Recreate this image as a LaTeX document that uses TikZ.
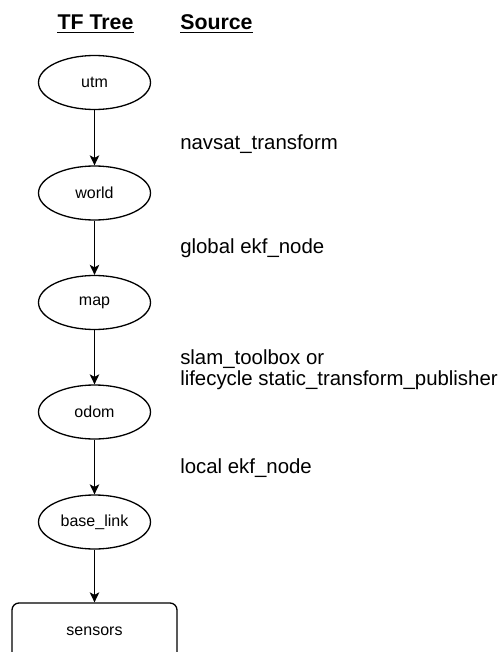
\documentclass[tikz,border=0pt]{standalone}
\usepackage{fontspec}
\setmainfont{Liberation Sans}
\usetikzlibrary{arrows.meta,shapes.geometric}
\begin{document}
\begin{tikzpicture}[x=0.75pt,y=-0.75pt,
  frame/.style={draw=black,line width=1.3*0.75pt,inner sep=0pt},
  tfnode/.style={frame,ellipse,minimum width=112*0.75pt,minimum height=54*0.75pt,
    font=\fontsize{12}{14}\selectfont},
  leaf/.style={frame,rectangle,rounded corners=7*0.75pt,minimum width=165*0.75pt,
    minimum height=56*0.75pt,font=\fontsize{12}{14}\selectfont},
  link/.style={line width=1.3*0.75pt,
    -{Stealth[length=10*0.75pt,width=9.5*0.75pt,inset=2.5*0.75pt]}},
  heading/.style={inner sep=0pt,font=\fontsize{16}{19}\selectfont\bfseries},
  source/.style={inner sep=0pt,anchor=base west,align=left,
    font=\fontsize{15.3}{13.9}\selectfont},
  rule/.style={line width=1.5*0.75pt}]
\useasboundingbox (0,0) rectangle (500,652);
\clip (0,0) rectangle (500,652);

% column headings
\node[heading,anchor=base] (h1) at (95.5,30) {TF Tree};
\node[heading,anchor=base west] (h2) at (180,30) {Source};
\draw[rule] ([yshift=-2.3*0.75pt]h1.base west) -- ([yshift=-2.3*0.75pt]h1.base east);
\draw[rule] ([yshift=-2.3*0.75pt]h2.base west) -- ([yshift=-2.3*0.75pt]h2.base east);

% frames of the transform tree
\node[tfnode] (utm)   at (94.5,82.5)  {utm};
\node[tfnode] (world) at (94.5,193)   {world};
\node[tfnode] (map)   at (94.5,302.5) {map};
\node[tfnode] (odom)  at (94.5,412)   {odom};
\node[tfnode] (base)  at (94.5,522)   {base\_link};
\node[leaf]   (sensors) at (94.5,631) {sensors};

\draw[link] (utm)   -- (world);
\draw[link] (world) -- (map);
\draw[link] (map)   -- (odom);
\draw[link] (odom)  -- (base);
\draw[link] (base)  -- (sensors);

% publishers of each transform (base anchor of the two-line label is its last line)
\node[source] (s1) at (180,150)   {navsat\_transform};
\node[source] (s2) at (180,253)   {global ekf\_node};
\node[source] (s3) at (180,385)   {slam\_toolbox or\\lifecycle static\_transform\_publisher};
\node[source] (s4) at (180,473)   {local ekf\_node};
\end{tikzpicture}
\end{document}
